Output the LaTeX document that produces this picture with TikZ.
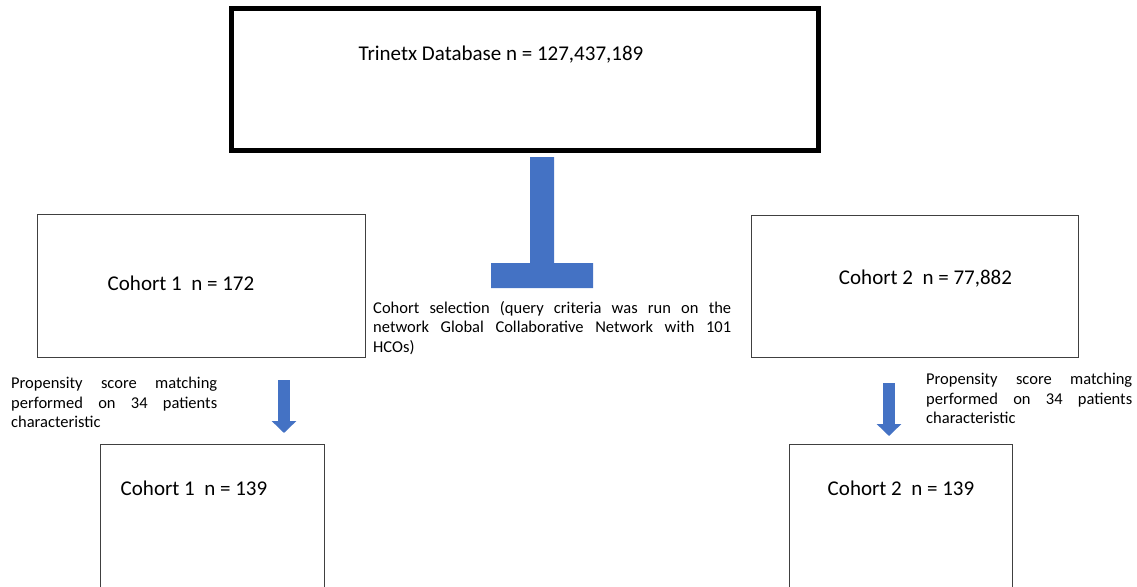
\documentclass[tikz,border=0pt]{standalone}
\usepackage{fontspec}
\setmainfont{Carlito}
\usetikzlibrary{arrows.meta}
\definecolor{officeblue}{RGB}{68,114,196}
\definecolor{boxline}{RGB}{64,64,64}
\newcommand{\bigtxt}{\fontsize{21}{25}\selectfont}
\newcommand{\smalltxt}{\fontsize{16.5}{19.5}\selectfont}
\begin{document}
\begin{tikzpicture}[x=1pt,y=-1pt,
    box/.style={draw=boxline,line width=1pt,rectangle,inner sep=0pt},
    thickbox/.style={draw=black,line width=5pt,rectangle,inner sep=0pt},
    label/.style={inner sep=0pt,font=\bigtxt},
    note/.style={inner sep=0pt,anchor=north west,align=justify,font=\smalltxt},
    blockarrow/.style={draw=officeblue,line width=12pt,-{Triangle[width=24pt,length=12pt]}}]

    \clip (0,0) rectangle (1137,586);

    % boxes
    \node[thickbox, minimum width=587pt, minimum height=142pt] (db) at (525, 79.5) {};
    \node[box, minimum width=328pt, minimum height=143pt] (c1) at (201, 285.5) {};
    \node[box, minimum width=327pt, minimum height=142pt] (c2) at (914.5, 286) {};
    \node[box, minimum width=224pt, minimum height=176pt] (m1) at (212, 532) {};
    \node[box, minimum width=223pt, minimum height=176pt] (m2) at (900.5, 532) {};

    % box texts
    \node[label] (dbtext) at (501, 55) {Trinetx Database n = 127,437,189};
    \node[label] (c1text) at (181, 283) {Cohort 1~ n = 172};
    \node[label] (c2text) at (925.5, 279) {Cohort 2~ n = 77,882};
    \node[label] (m1text) at (194, 488) {Cohort 1~ n = 139};
    \node[label] (m2text) at (901, 488) {Cohort 2~ n = 139};

    % selection shape
    \fill[officeblue] (530,157) -- (554,157) -- (554,263) -- (593,263) -- (593,288)
        -- (491,288) -- (491,263) -- (530,263) -- cycle;
    \node[note, text width=358pt] (sel) at (373, 301)
        {\hyphenpenalty=10000 Cohort selection (query criteria was run on the\linebreak network Global Collaborative Network with 101\linebreak HCOs)};

    % matching
    \node[note, text width=206pt] (ps1) at (11, 377)
        {\hyphenpenalty=10000 Propensity score matching\linebreak performed on 34 patients\linebreak characteristic};
    \node[note, text width=206pt] (ps2) at (926, 373)
        {\hyphenpenalty=10000 Propensity score matching\linebreak performed on 34 patients\linebreak characteristic};

    \coordinate (a1s) at (284, 380);
    \coordinate (a1e) at (284, 433);
    \coordinate (a2s) at (889, 383);
    \coordinate (a2e) at (889, 436);
    \draw[blockarrow] (a1s) -- (a1e);
    \draw[blockarrow] (a2s) -- (a2e);
\end{tikzpicture}
\end{document}
